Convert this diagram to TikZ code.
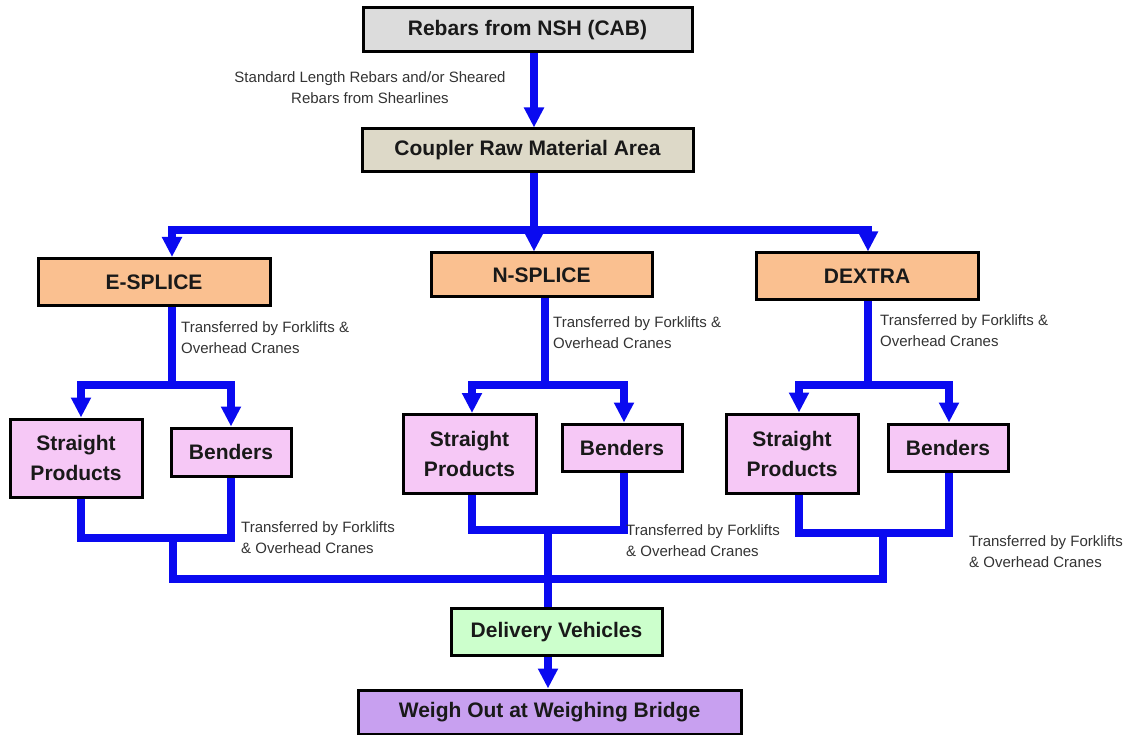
\documentclass[tikz,border=0pt]{standalone}
\usepackage{fontspec}
\setmainfont{Liberation Sans}
\usetikzlibrary{arrows.meta}
\definecolor{flowblue}{RGB}{10,10,240}
\definecolor{topgray}{RGB}{220,220,220}
\definecolor{cplfill}{RGB}{221,217,200}
\definecolor{orangefill}{RGB}{250,192,144}
\definecolor{pinkfill}{RGB}{246,200,246}
\definecolor{greenfill}{RGB}{204,255,204}
\definecolor{purplefill}{RGB}{200,160,240}
\tikzset{
  box/.style={draw=black, line width=3pt, inner sep=0pt, align=center,
    font=\fontsize{21}{30}\selectfont\bfseries, text=black!90},
  flow/.style={draw=flowblue, line width=8pt, line join=miter},
  arr/.style={flow, -{Triangle[width=19pt,length=20pt]}},
  lab/.style={font=\fontsize{15}{21}\selectfont, text=black!80, inner sep=0pt},
}
\begin{document}
\begin{tikzpicture}[x=1pt,y=-1pt]
\useasboundingbox (0,0) rectangle (1133,735);
% boxes
\node[box, fill=topgray, minimum width=329pt, minimum height=44pt] (top) at (527.5,30) {Rebars from NSH (CAB)};
\node[box, fill=cplfill, minimum width=331pt, minimum height=43pt] (cpl) at (527.5,150.5) {Coupler Raw Material Area};
\node[box, fill=orangefill, minimum width=232pt, minimum height=47pt] (esp) at (154,282) {E-SPLICE};
\node[box, fill=orangefill, minimum width=221pt, minimum height=44pt] (nsp) at (541.5,275) {N-SPLICE};
\node[box, fill=orangefill, minimum width=222pt, minimum height=47pt] (dex) at (867,276.5) {DEXTRA};
\node[box, fill=pinkfill, minimum width=132pt, minimum height=78pt] (eS) at (76,458) {Straight\\Products};
\node[box, fill=pinkfill, minimum width=120pt, minimum height=48pt] (eB) at (231,452) {Benders};
\node[box, fill=pinkfill, minimum width=133pt, minimum height=79pt] (nS) at (469.5,454) {Straight\\Products};
\node[box, fill=pinkfill, minimum width=120pt, minimum height=47pt] (nB) at (622,447.5) {Benders};
\node[box, fill=pinkfill, minimum width=132pt, minimum height=79pt] (dS) at (792,453.5) {Straight\\Products};
\node[box, fill=pinkfill, minimum width=120pt, minimum height=47pt] (dB) at (948,447.5) {Benders};
\node[box, fill=greenfill, minimum width=211pt, minimum height=47pt] (del) at (556.5,632) {Delivery Vehicles};
\node[box, fill=purplefill, minimum width=383pt, minimum height=44pt] (wgh) at (549.5,712) {Weigh Out at Weighing Bridge};
% column coordinates
\coordinate (xa) at (534,0);
\coordinate (xE) at (172,0);
\coordinate (xD) at (868,0);
\coordinate (xN) at (545,0);
\coordinate (xES) at (81,0);
\coordinate (xNS) at (472,0);
\coordinate (xNB) at (624,0);
\coordinate (xDS) at (799,0);
\coordinate (xDB) at (949,0);
\coordinate (bus) at (0,230);
\coordinate (br) at (0,385);
% top connectors
\draw[arr] (top.south -| xa) -- (cpl.north -| xa);
\draw[arr] (cpl.south -| xa) -- (nsp.north -| xa);
\draw[arr] (bus -| xa) -| (esp.north -| xE);
\draw[arr] (bus -| xa) -| (dex.north -| xD);
% E branch
\draw[flow] (esp.south -| xE) -- (br -| xE);
\draw[arr] (br -| xE) -| (eS.north -| xES);
\draw[arr] (br -| xE) -| (eB.north);
% N branch
\draw[flow] (nsp.south -| xN) -- (br -| xN);
\draw[arr] (br -| xN) -| (nS.north -| xNS);
\draw[arr] (br -| xN) -| (nB.north -| xNB);
% D branch
\draw[flow] (dex.south -| xD) -- (br -| xD);
\draw[arr] (br -| xD) -| (dS.north -| xDS);
\draw[arr] (br -| xD) -| (dB.north -| xDB);
% bottom loops
\coordinate (lE) at (0,538);
\coordinate (lN) at (0,530);
\coordinate (lD) at (0,533);
\coordinate (bot) at (0,579);
\coordinate (xEb) at (81,0);
\coordinate (xEd) at (173,0);
\coordinate (xNd) at (548,0);
\coordinate (xDd) at (883,0);
\draw[flow] (eS.south -| xEb) -- (xEb |- lE) -- (eB.south |- lE) -- (eB.south);
\draw[flow] (nS.south -| xNS) -- (xNS |- lN) -- (xNB |- lN) -- (nB.south -| xNB);
\draw[flow] (dS.south -| xDS) -- (xDS |- lD) -- (xDB |- lD) -- (dB.south -| xDB);
\draw[flow] (xEd |- lE) -- (xEd |- bot) -- (xDd |- bot) -- (xDd |- lD);
\draw[flow] (xNd |- lN) -- (del.north -| xNd);
\draw[arr] (del.south -| xNd) -- (wgh.north -| xNd);
% labels
\node[lab, align=center] (l0) at (370,88) {Standard Length Rebars and/or Sheared\\Rebars from Shearlines};
\node[lab, align=left, anchor=west] (l1) at (181,338) {Transferred by Forklifts \&\\Overhead Cranes};
\node[lab, align=left, anchor=west] (l2) at (553,333) {Transferred by Forklifts \&\\Overhead Cranes};
\node[lab, align=left, anchor=west] (l3) at (880,331) {Transferred by Forklifts \&\\Overhead Cranes};
\node[lab, align=left, anchor=west] (l4) at (241,538) {Transferred by Forklifts\\\& Overhead Cranes};
\node[lab, align=left, anchor=west] (l5) at (626,541) {Transferred by Forklifts\\\& Overhead Cranes};
\node[lab, align=left, anchor=west] (l6) at (969,552) {Transferred by Forklifts\\\& Overhead Cranes};
\end{tikzpicture}
\end{document}
